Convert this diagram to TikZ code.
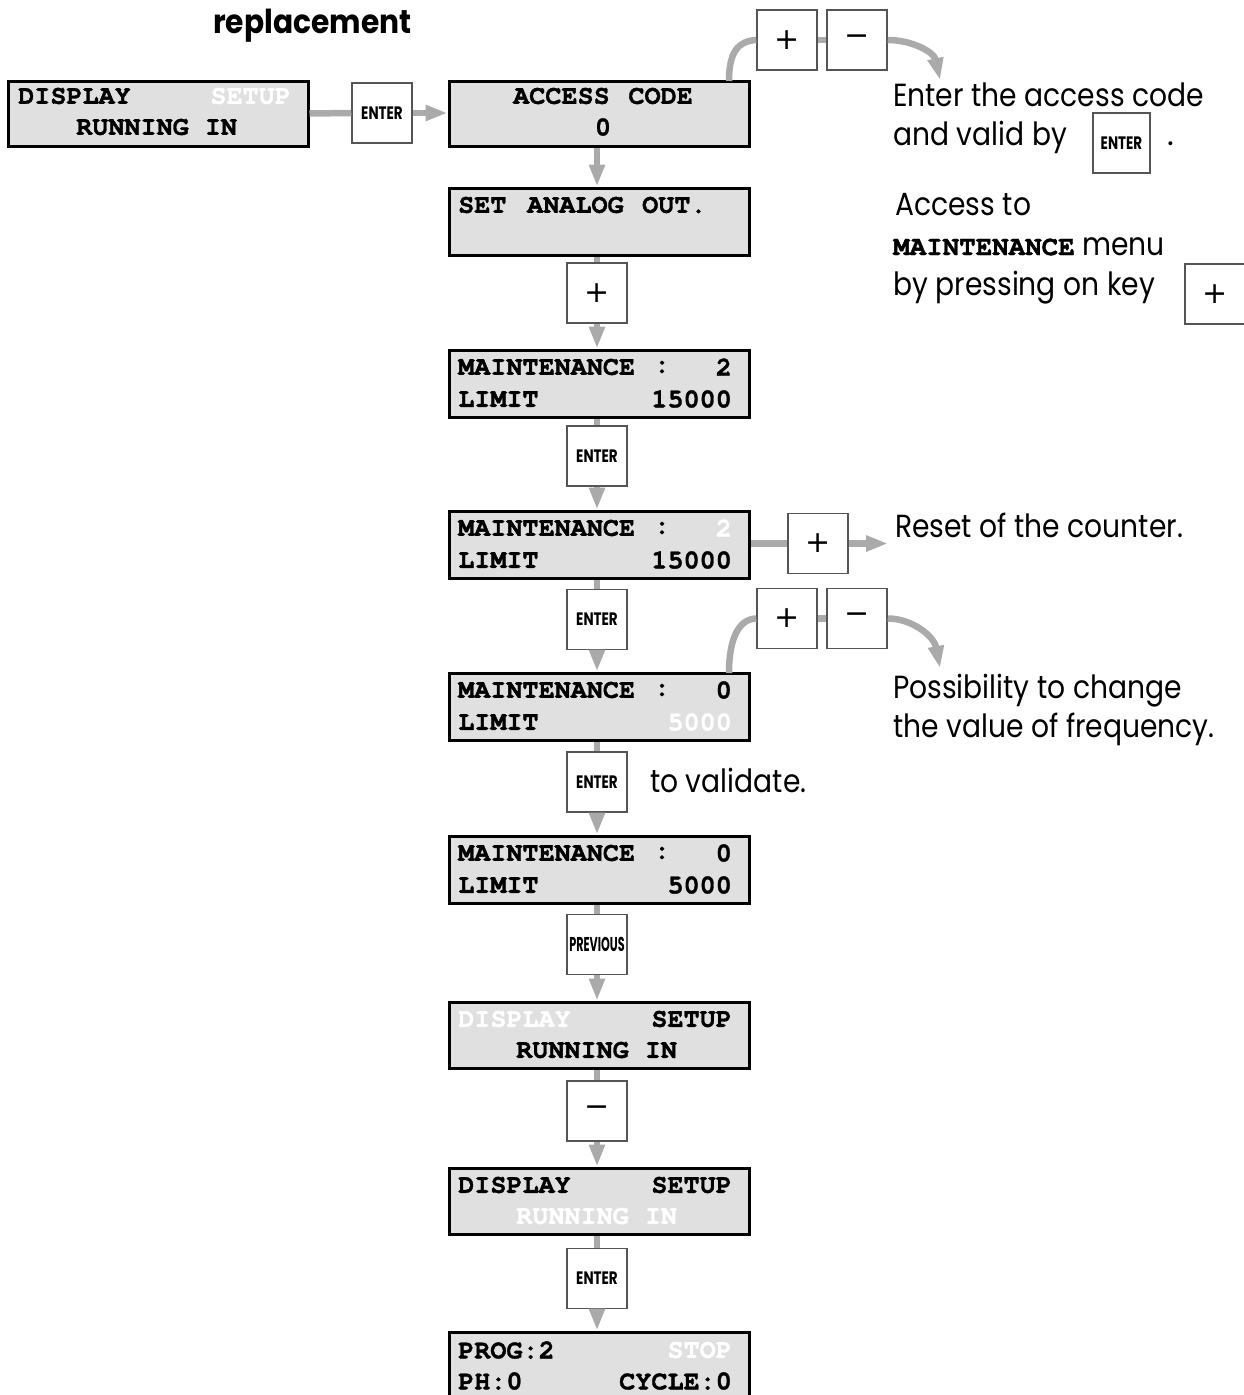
\documentclass[tikz,border=0pt]{standalone}
\usepackage{fontspec}
\setmainfont{Poppins}
\newfontfamily\lcdf{TeX Gyre Cursor Bold}[FakeBold=1.3]
\newfontfamily\symf{DejaVu Sans}
\usetikzlibrary{arrows.meta}
\definecolor{lcdgray}{HTML}{E0E0E0}
\definecolor{conngray}{HTML}{AAAAAA}
\definecolor{keyborder}{HTML}{555555}
\newcommand{\sq}[1]{\scalebox{0.88}[1]{#1}}
\newcommand{\keylab}[3]{\scalebox{#1}[1]{\fontsize{#2}{#2}\selectfont\bfseries #3}}
\tikzset{
  lcd/.style={draw=black, line width=3pt, fill=lcdgray, minimum width=300pt, minimum height=65pt, inner sep=0pt},
  keybox/.style={draw=keyborder, line width=1.5pt, fill=white, minimum width=60pt, minimum height=60pt, inner sep=0pt},
  symkey/.style={keybox, font=\symf\fontsize{30}{30}\selectfont},
  conn/.style={draw=conngray, line width=6.5pt},
  arr/.style={conn, -{Triangle[length=22pt,width=15pt]}},
  lw/.style={font=\lcdf\fontsize{26.8}{26.8}\selectfont, inner sep=0pt, anchor=west},
  le/.style={lw, anchor=east},
  lc/.style={lw, anchor=center},
  st/.style={font=\fontsize{32}{32}\selectfont, inner sep=0pt, anchor=base west},
  head/.style={font=\fontsize{33}{33}\selectfont\bfseries, inner sep=0pt, anchor=base west}
}
\begin{document}
\begin{tikzpicture}[x=1pt,y=-1pt]
\useasboundingbox (0,0) rectangle (1244,1395);

% heading
\node[head] (title) at (213,33) {\scalebox{0.9}[1]{replacement}};

% LCD boxes
\node[lcd] (b1) at (158,113.5) {};
\node[lcd] (acc) at (599,113.5) {};
\node[lcd, minimum height=67pt] (sao) at (599,221.5) {};
\node[lcd, minimum height=67pt] (m1) at (599,383.5) {};
\node[lcd, minimum height=67pt] (m2) at (599,544.5) {};
\node[lcd, minimum height=67pt] (m3) at (599,706.5) {};
\node[lcd, minimum height=67pt] (m4) at (599,869.5) {};
\node[lcd, minimum height=66pt] (d1) at (599,1035) {};
\node[lcd, minimum height=66pt] (d2) at (599,1201) {};
\node[lcd] (prog) at (599,1364.5) {};

% LCD texts
\node[lw] (t1a) at (18,96) {DISPLAY};
\node[le] (t1b) at (291,96) {\textcolor{white}{SETUP}};
\node[lw] (t1c) at (76,127) {RUNNING~IN};

\node[lw] (t2a) at (513,96) {ACCESS};
\node[le] (t2b) at (693,96) {CODE};
\node[lc] (t2c) at (603,127) {0};

\node[lw] (t3a) at (458,205) {SET};
\node[lw] (t3b) at (527,205) {ANALOG};
\node[lw] (t3c) at (642,205) {OUT.};

\node[lw] (t4a) at (458,367) {MAINTENANCE};
\node[lc] (t4b) at (662,367) {:};
\node[le] (t4c) at (732,367) {2};
\node[lw] (t4d) at (458,399) {LIMIT};
\node[le] (t4e) at (732,399) {15000};

\node[lw] (t5a) at (458,528) {MAINTENANCE};
\node[lc] (t5b) at (662,528) {:};
\node[le] (t5c) at (732,528) {\textcolor{white}{2}};
\node[lw] (t5d) at (458,560) {LIMIT};
\node[le] (t5e) at (732,560) {15000};

\node[lw] (t6a) at (458,690) {MAINTENANCE};
\node[lc] (t6b) at (662,690) {:};
\node[le] (t6c) at (732,690) {0};
\node[lw] (t6d) at (458,722) {LIMIT};
\node[le] (t6e) at (732,722) {\textcolor{white}{5000}};

\node[lw] (t7a) at (458,853) {MAINTENANCE};
\node[lc] (t7b) at (662,853) {:};
\node[le] (t7c) at (732,853) {0};
\node[lw] (t7d) at (458,885) {LIMIT};
\node[le] (t7e) at (732,885) {5000};

\node[lw] (t8a) at (458,1019) {\textcolor{white}{DISPLAY}};
\node[le] (t8b) at (732,1019) {SETUP};
\node[lw] (t8c) at (516,1050) {RUNNING~IN};

\node[lw] (t9a) at (458,1185) {DISPLAY};
\node[le] (t9b) at (732,1185) {SETUP};
\node[lw] (t9c) at (516,1216) {\textcolor{white}{RUNNING~IN}};

\node[lw] (t10a) at (458,1350) {PROG:2};
\node[le] (t10b) at (732,1350) {\textcolor{white}{STOP}};
\node[lw] (t10c) at (458,1381) {PH:0};
\node[le] (t10d) at (732,1381) {CYCLE:0};

% keys
\node[keybox] (ken1) at (382,113) {\keylab{0.75}{18}{ENTER}};
\node[symkey] (kp1) at (787,40) {+};
\node[symkey] (km1) at (857,40) {−};
\node[symkey] (kplus) at (597,293) {+};
\node[keybox] (ke1) at (597,456) {\keylab{0.75}{18}{ENTER}};
\node[keybox] (ke2) at (597,619.5) {\keylab{0.75}{18}{ENTER}};
\node[keybox] (ke3) at (597,782) {\keylab{0.75}{18}{ENTER}};
\node[keybox] (kprev) at (597,944.5) {\keylab{0.56}{20}{PREVIOUS}};
\node[symkey] (kminus) at (597,1111) {−};
\node[keybox] (ke4) at (597,1278.5) {\keylab{0.75}{18}{ENTER}};
\node[symkey] (kreset) at (818,543.5) {+};
\node[symkey] (kp2) at (787,618.5) {+};
\node[symkey] (km2) at (857,618.5) {−};
\node[keybox, minimum width=57pt] (kent) at (1121.5,143) {\keylab{0.75}{18}{ENTER}};
\node[symkey] (kpt) at (1215,294) {+};

% explanatory texts
\node[st] (x1) at (893,106) {\sq{Enter the access code}};
\node[st] (x2) at (893,145) {\sq{and valid by}};
\node[st] (x3) at (1167,145) {.};
\node[st] (x4) at (895,215) {\sq{Access to}};
\node[st] (x5) at (893,255) {{\lcdf\fontsize{27.5}{27.5}\selectfont MAINTENANCE}\sq{ menu}};
\node[st] (x6) at (893,295) {\sq{by pressing on key}};
\node[st] (x7) at (895,537) {\sq{Reset of the counter.}};
\node[st] (x8) at (893,698) {\sq{Possibility to change}};
\node[st] (x9) at (893,737) {\sq{the value of frequency.}};
\node[st] (x10) at (650,792) {\sq{to validate.}};

% connectors
\coordinate (rs) at (888,543.5);
\coordinate (tip1) at (940,80);
\coordinate (tip2) at (940,668);
\coordinate (c1s) at (729,81);
\coordinate (c2s) at (729,673);

\draw[conn] (b1.east) -- (ken1.west);
\draw[arr] (ken1.east) -- (ken1.east -| acc.west);
\draw[arr] (acc.south -| kplus) -- (sao.north -| kplus);
\draw[conn] (sao.south -| kplus) -- (kplus.north);
\draw[arr] (kplus.south) -- (kplus.south |- m1.north);
\draw[conn] (m1.south -| ke1) -- (ke1.north);
\draw[arr] (ke1.south) -- (ke1.south |- m2.north);
\draw[conn] (m2.south -| ke2) -- (ke2.north);
\draw[arr] (ke2.south) -- (ke2.south |- m3.north);
\draw[conn] (m3.south -| ke3) -- (ke3.north);
\draw[arr] (ke3.south) -- (ke3.south |- m4.north);
\draw[conn] (m4.south -| kprev) -- (kprev.north);
\draw[arr] (kprev.south) -- (kprev.south |- d1.north);
\draw[conn] (d1.south -| kminus) -- (kminus.north);
\draw[arr] (kminus.south) -- (kminus.south |- d2.north);
\draw[conn] (d2.south -| ke4) -- (ke4.north);
\draw[arr] (ke4.south) -- (ke4.south |- prog.north);

\draw[conn] (m2.east |- kreset) -- (kreset.west);
\draw[arr] (kreset.east) -- (rs);

\draw[conn] (c1s) .. controls (729,52) and (738,41) .. (kp1.west);
\draw[conn] (kp1.east) -- (km1.west);
\draw[arr] (km1.east) .. controls (912,40) and (934,52) .. (tip1);

\draw[conn] (c2s) .. controls (729,640) and (738,619) .. (kp2.west);
\draw[conn] (kp2.east) -- (km2.west);
\draw[arr] (km2.east) .. controls (912,618.5) and (934,636) .. (tip2);
\end{tikzpicture}
\end{document}
